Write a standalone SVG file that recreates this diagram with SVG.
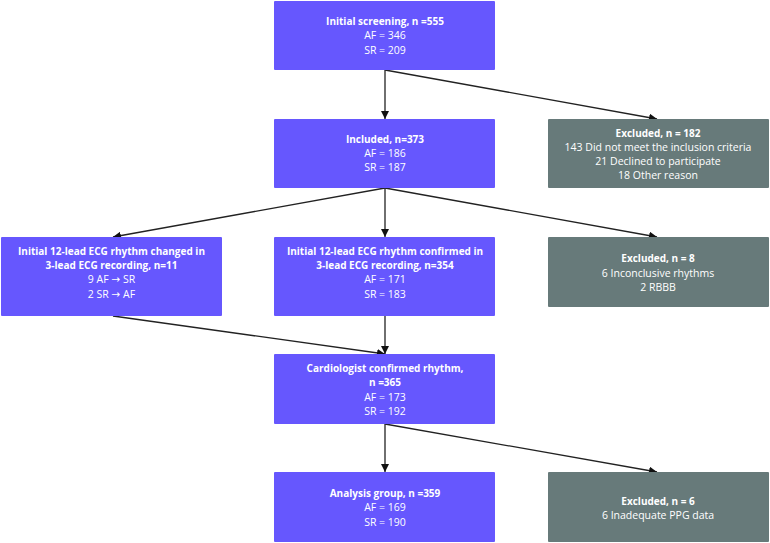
<svg xmlns="http://www.w3.org/2000/svg" width="770" height="543" viewBox="0 0 770 543">
<defs>
<style>
.p{fill:#6657fe}
.g{fill:#677a7a}
text{font-family:"Open Sans","Noto Sans","DejaVu Sans",sans-serif;font-size:10.5px;fill:#ffffff;text-anchor:middle}
.b{font-weight:bold;font-size:10px}
.c{stroke:#222;stroke-width:1.3;fill:none;marker-end:url(#ah)}
</style>
<marker id="ah" viewBox="0 0 10 10" refX="10" refY="5" markerWidth="8" markerHeight="8" markerUnits="userSpaceOnUse" orient="auto">
<path d="M0,0 L10,5 L0,10 z" fill="#111"/>
</marker>
</defs>
<rect width="770" height="543" fill="#ffffff"/>
<g id="connectors">
<line class="c" x1="385" y1="70" x2="385" y2="119"/>
<line class="c" x1="385" y1="70" x2="657" y2="119"/>
<line class="c" x1="385" y1="188" x2="113" y2="237"/>
<line class="c" x1="385" y1="188" x2="385" y2="237"/>
<line class="c" x1="385" y1="188" x2="657" y2="237"/>
<line class="c" x1="113" y1="316" x2="385" y2="354"/>
<line class="c" x1="385" y1="316" x2="385" y2="354"/>
<line class="c" x1="385" y1="424" x2="385" y2="472"/>
<line class="c" x1="385" y1="424" x2="657" y2="472"/>
</g>
<g id="screening">
<rect class="p" x="274" y="1" width="221" height="69" rx="1"/>
<text x="385" y="25" class="b">Initial screening, n =555</text>
<text x="385" y="39">AF = 346</text>
<text x="385" y="54">SR = 209</text>
</g>
<g id="included">
<rect class="p" x="274" y="119" width="221" height="69" rx="1"/>
<text x="385" y="143" class="b">Included, n=373</text>
<text x="385" y="157">AF = 186</text>
<text x="385" y="171">SR = 187</text>
</g>
<g id="excluded182">
<rect class="g" x="548" y="119" width="221" height="69" rx="1"/>
<text x="658" y="136.5" class="b">Excluded, n = 182</text>
<text x="658" y="150.5">143 Did not meet the inclusion criteria</text>
<text x="658" y="164.5">21 Declined to participate</text>
<text x="658" y="178.5">18 Other reason</text>
</g>
<g id="changed">
<rect class="p" x="1" y="237" width="221" height="79" rx="1"/>
<text x="111.5" y="254.5" class="b">Initial 12-lead ECG rhythm changed in</text>
<text x="111.5" y="269" class="b">3-lead ECG recording, n=11</text>
<text x="111.5" y="283">9 AF → SR</text>
<text x="111.5" y="297.5">2 SR → AF</text>
</g>
<g id="confirmed">
<rect class="p" x="274" y="237" width="221" height="79" rx="1"/>
<text x="385" y="254.5" class="b">Initial 12-lead ECG rhythm confirmed in</text>
<text x="385" y="269" class="b">3-lead ECG recording, n=354</text>
<text x="385" y="283">AF = 171</text>
<text x="385" y="297.5">SR = 183</text>
</g>
<g id="excluded8">
<rect class="g" x="548" y="237" width="221" height="70" rx="1"/>
<text x="658" y="262" class="b">Excluded, n = 8</text>
<text x="658" y="276.5">6 Inconclusive rhythms</text>
<text x="658" y="291">2 RBBB</text>
</g>
<g id="cardiologist">
<rect class="p" x="274" y="354" width="221" height="70" rx="1"/>
<text x="385" y="372" class="b">Cardiologist confirmed rhythm,</text>
<text x="385" y="386" class="b">n =365</text>
<text x="385" y="400.5">AF = 173</text>
<text x="385" y="414.5">SR = 192</text>
</g>
<g id="analysis">
<rect class="p" x="274" y="472" width="221" height="70" rx="1"/>
<text x="385" y="496.5" class="b">Analysis group, n =359</text>
<text x="385" y="511">AF = 169</text>
<text x="385" y="525.5">SR = 190</text>
</g>
<g id="excluded6">
<rect class="g" x="548" y="472" width="221" height="70" rx="1"/>
<text x="658" y="504.5" class="b">Excluded, n = 6</text>
<text x="658" y="519">6 Inadequate PPG data</text>
</g>
</svg>
